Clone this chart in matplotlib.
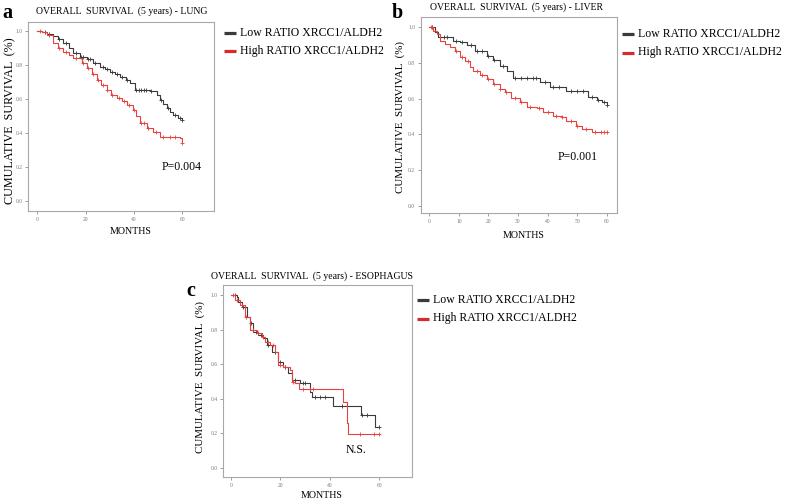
import numpy as np
import matplotlib
matplotlib.use("Agg")
import matplotlib.pyplot as plt

plt.rcParams['font.family'] = ['Liberation Serif', 'DejaVu Serif']

# panel a - lung: (months, survival) knots of the Kaplan-Meier steps
lung_low_t = [0, 2, 4, 6.6, 8.5, 10.8, 13, 14.9, 17.7, 20.4, 23, 25.9, 28, 30.1, 32, 34.2, 36.5,
              38.3, 40.4, 46.6, 49.4, 50.8, 52, 53.5, 55, 56.3, 58, 60]
lung_low_s = [1.0, 0.99, 0.98, 0.969, 0.95, 0.925, 0.90, 0.867, 0.843, 0.832, 0.81, 0.789, 0.775,
              0.759, 0.745, 0.73, 0.71, 0.691, 0.652, 0.648, 0.622, 0.593, 0.57, 0.544, 0.525,
              0.505, 0.49, 0.476]
lung_low_cens = [3, 5, 9, 12, 16, 18, 19, 21, 22, 24, 27, 29, 31, 33, 35, 37, 41, 42, 43, 44, 45,
                 47, 51, 54, 57, 59, 60]
lung_high_t = [0, 2, 3.9, 6.6, 8.5, 10.8, 13, 14.9, 18.3, 20.4, 22.5, 24.6, 26.5, 28.7, 30.5, 32.8,
               35, 37, 39.7, 41, 42.5, 45.2, 48, 50.8, 53.5, 59, 60]
lung_high_s = [1.0, 0.99, 0.975, 0.926, 0.90, 0.877, 0.855, 0.838, 0.808, 0.779, 0.745, 0.71,
               0.68, 0.652, 0.625, 0.603, 0.585, 0.564, 0.534, 0.50, 0.456, 0.427, 0.407, 0.378,
               0.378, 0.368, 0.339]
lung_high_cens = [1, 5, 9, 12, 16, 19, 21, 23, 25, 27, 29, 31, 34, 36, 38, 40, 43, 44, 46, 49,
                  52, 55, 57, 60]

# panel b - liver
liver_low_t = [0, 1.9, 3, 7, 8.1, 10.4, 12.6, 15.4, 17.1, 19.4, 21.6, 23.9, 26.2, 28.4, 37.4,
               40.8, 46.4, 53.8, 56.6, 58.3, 60]
liver_low_s = [1.0, 0.972, 0.948, 0.944, 0.925, 0.916, 0.903, 0.869, 0.866, 0.841, 0.817, 0.785,
               0.757, 0.714, 0.692, 0.667, 0.641, 0.607, 0.593, 0.579, 0.564]
liver_low_cens = [1, 5, 6, 9, 11, 14, 16, 18, 20, 22, 25, 29, 31, 33, 35, 36, 39, 42, 44, 48, 50,
                  52, 55, 57, 59, 60]
liver_high_t = [0, 1.4, 2.5, 3.6, 5.3, 7, 8.7, 10.4, 12.1, 13.8, 14.9, 17.1, 19.4, 21.6, 23.9,
                25.6, 27.8, 30.7, 32.9, 36.3, 38.6, 42, 44.8, 46.4, 49.8, 51.5, 54.9, 60]
liver_high_s = [1.0, 0.981, 0.963, 0.925, 0.907, 0.888, 0.869, 0.832, 0.81, 0.776, 0.753, 0.735,
                0.710, 0.682, 0.654, 0.636, 0.604, 0.583, 0.555, 0.548, 0.523, 0.505, 0.495,
                0.473, 0.449, 0.43, 0.411, 0.411]
liver_high_cens = [0.5, 1, 9, 11, 13, 16, 18, 20, 22, 24, 26, 29, 31, 34, 37, 40, 43, 45, 48, 50,
                   53, 56, 58, 59, 60]

# panel c - esophagus
eso_low_t = [0, 2.3, 3, 4.3, 6.3, 7.7, 9, 11, 13.1, 14.4, 16.4, 19.1, 21.2, 23.2, 24.5, 27.9,
             31.9, 32.6, 41.4, 52.4, 58.2, 60]
eso_low_s = [1.0, 0.99, 0.961, 0.932, 0.875, 0.836, 0.788, 0.768, 0.749, 0.71, 0.672, 0.614,
             0.585, 0.546, 0.508, 0.488, 0.44, 0.407, 0.357, 0.305, 0.237, 0.237]
eso_low_cens = [1.5, 3.5, 5, 8, 10, 12, 15, 18, 20, 22, 26, 29, 30, 34, 36, 38, 45, 53, 55, 60]
eso_high_t = [0, 1.6, 3.6, 5.7, 7.7, 10.4, 12.4, 13.7, 15.8, 17.8, 19.1, 21.2, 23.9, 24.5, 25.9,
              27.6, 44.1, 45.1, 46.8, 47.4, 60]
eso_high_s = [1.0, 0.971, 0.942, 0.875, 0.797, 0.778, 0.759, 0.73, 0.71, 0.672, 0.595, 0.585,
              0.566, 0.498, 0.488, 0.455, 0.455, 0.382, 0.257, 0.195, 0.195]
eso_high_cens = [1, 2.5, 4.5, 6, 9, 11, 12.9, 15, 17, 20, 22, 25, 29, 32, 33, 52, 58, 60]

legend_labels = ['Low RATIO XRCC1/ALDH2', 'High RATIO XRCC1/ALDH2']

W, H = 787, 501
fig = plt.figure(figsize=(W / 100, H / 100), dpi=100)

BLACK = '#3a3a3a'
RED = '#e8413f'


def box(l, t, r, b):
    return [l / W, 1 - b / H, (r - l) / W, (b - t) / H]


def ftext(x, y, s, **kw):
    fig.text(x / W, 1 - y / H, s, **kw)


def step_val(t, s, x):
    i = np.searchsorted(t, x, side='right') - 1
    return np.asarray(s)[np.clip(i, 0, len(s) - 1)]


def km_panel(rect, xlim, ylim, xticks, curves):
    ax = fig.add_axes(rect)
    for t, s, cens, col in curves:
        ax.plot(t, s, drawstyle='steps-post', color=col, lw=0.8)
        ax.plot(cens, step_val(t, s, cens), ls='none', marker='+', ms=2.5, mew=0.6, color=col)
    ax.set_xlim(*xlim)
    ax.set_ylim(*ylim)
    ax.set_xticks(xticks)
    ax.set_yticks([0.0, 0.2, 0.4, 0.6, 0.8, 1.0])
    ax.set_yticklabels(['0.0', '0.2', '0.4', '0.6', '0.8', '1.0'])
    ax.tick_params(labelsize=4, colors='#777777', length=2.5, width=0.5, pad=1.5)
    for sp in ax.spines.values():
        sp.set_color('#a8a8a8')
        sp.set_linewidth(0.8)
    return ax


km_panel(box(28, 22, 214, 211), (-3.85, 73.1), (-0.059, 1.051), [0, 20, 40, 60],
         [(lung_low_t, lung_low_s, lung_low_cens, BLACK),
          (lung_high_t, lung_high_s, lung_high_cens, RED)])
km_panel(box(420.7, 17, 617, 213), (-2.9, 63.5), (-0.041, 1.058), [0, 10, 20, 30, 40, 50, 60],
         [(liver_low_t, liver_low_s, liver_low_cens, BLACK),
          (liver_high_t, liver_high_s, liver_high_cens, RED)])
km_panel(box(223, 285, 412.3, 477.3), (-3.2, 73.3), (-0.056, 1.058), [0, 20, 40, 60],
         [(eso_low_t, eso_low_s, eso_low_cens, BLACK),
          (eso_high_t, eso_high_s, eso_high_cens, RED)])

# panel letters and titles
ftext(2, 18.5, 'a', fontsize=14.5, fontweight='bold')
ftext(392, 18, 'b', fontsize=14.5, fontweight='bold')
ftext(186, 296, 'c', fontsize=14.5, fontweight='bold')
ftext(36, 13.5, 'OVERALL  SURVIVAL  (5 years) - LUNG', fontsize=7, va='baseline')
ftext(430, 10, 'OVERALL  SURVIVAL  (5 years) - LIVER', fontsize=7, va='baseline')
ftext(211, 279, 'OVERALL  SURVIVAL  (5 years) - ESOPHAGUS', fontsize=7, va='baseline')

# axis labels
for x, y, fs in [(10, 121, 8.7), (400, 117, 7.9), (200, 377, 7.9)]:
    ftext(x, y, 'CUMULATIVE  SURVIVAL  (%)', fontsize=fs, rotation=90, ha='center', va='center')
for x, y in [(131, 232), (524, 235), (322, 496)]:
    ftext(x, y, 'MONTHS', fontsize=7.2, ha='center', va='center')

# p values
ftext(182, 167, 'P=0.004', fontsize=8.5, ha='center', va='center')
ftext(578, 157, 'P=0.001', fontsize=8.5, ha='center', va='center')
ftext(356, 450, 'N.S.', fontsize=8.5, ha='center', va='center')

# legends
for lx, ly in [(224, 33), (622, 34), (417, 300)]:
    for k, (lab, col) in enumerate(zip(legend_labels, [BLACK, '#d42b2b'])):
        yy = ly + k * 18.5
        fig.add_artist(plt.Line2D([lx / W, (lx + 12) / W], [1 - yy / H, 1 - yy / H],
                                  color=col, lw=2.3, solid_capstyle='butt',
                                  transform=fig.transFigure))
        ftext(lx + 16, yy, lab, fontsize=8.5, va='center')

fig.savefig('out.png', dpi=100)
